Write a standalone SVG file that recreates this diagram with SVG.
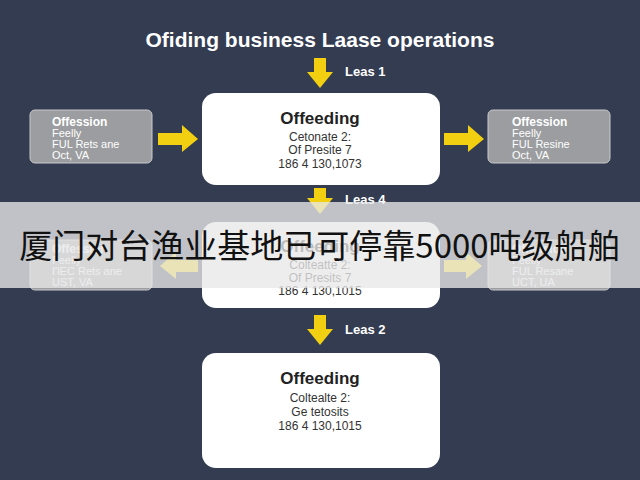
<svg xmlns="http://www.w3.org/2000/svg" width="640" height="480" viewBox="0 0 640 480">
<defs><style>
.t{font-family:"Liberation Sans",Arial,sans-serif}
.box{fill:#fff}
.side{fill:#9b9da0;stroke:#c8c9cb;stroke-width:1}
.ar{fill:#f2d011}
.h{font-weight:bold;fill:#222;font-size:17px}
.s{fill:#333;font-size:12px}
.sh{font-weight:bold;fill:#fff;font-size:12px}
.st{fill:#fff;font-size:11px}
.lb{font-weight:bold;fill:#fff;font-size:13px}
</style></defs>
<rect width="640" height="480" fill="#343c52"/>
<text class="t" x="320" y="47" text-anchor="middle" font-size="21" font-weight="bold" fill="#fff">Ofiding business Laase operations</text>
<g id="connectors">
<polygon class="ar" points="314,58 326,58 326,72 333,72 320,88 307,72 314,72"/>
<polygon class="ar" points="314,188 326,188 326,198 333,198 320,214 307,198 314,198"/>
<polygon class="ar" points="314,315 326,315 326,329 333,329 320,345 307,329 314,329"/>
<polygon class="ar" points="158,133 182,133 182,125 198,139 182,152 182,145 158,145"/>
<polygon class="ar" points="444,133 468,133 468,125 484,139 468,152 468,145 444,145"/>
<polygon class="ar" points="198,260 176,260 176,252 160,266 176,279 176,272 198,272"/>
<polygon class="ar" points="444,260 466,260 466,252 482,266 466,279 466,272 444,272"/>
<text class="t lb" x="345" y="76">Leas 1</text>
<text class="t lb" x="345" y="204">Leas 4</text>
<text class="t lb" x="345" y="334">Leas 2</text>
</g>
<g id="n1"><rect class="box" x="202" y="93" width="238" height="92" rx="14"/>
<text class="t h" x="320" y="124" text-anchor="middle">Offeeding</text>
<text class="t s" x="320" y="141" text-anchor="middle">Cetonate 2:</text>
<text class="t s" x="320" y="154" text-anchor="middle">Of Presite 7</text>
<text class="t s" x="320" y="168" text-anchor="middle">186 4 130,1073</text></g>
<g id="n2"><rect class="side" x="30" y="110" width="122" height="53" rx="5"/>
<text class="t sh" x="52" y="126">Offession</text>
<text class="t st" x="52" y="137">Feelly</text>
<text class="t st" x="52" y="148">FUL Rets ane</text>
<text class="t st" x="52" y="159">Oct, VA</text></g>
<g id="n3"><rect class="side" x="488" y="110" width="122" height="53" rx="5"/>
<text class="t sh" x="512" y="126">Offession</text>
<text class="t st" x="512" y="137">Feelly</text>
<text class="t st" x="512" y="148">FUL Resine</text>
<text class="t st" x="512" y="159">Oct, VA</text></g>
<g id="n4"><rect class="box" x="202" y="222" width="238" height="86" rx="14"/>
<text class="t h" x="320" y="252" text-anchor="middle">Offeeding</text>
<text class="t s" x="320" y="269" text-anchor="middle">Colteatte 2:</text>
<text class="t s" x="320" y="282" text-anchor="middle">Of Presits 7</text>
<text class="t s" x="320" y="295" text-anchor="middle">186 4 130,1015</text></g>
<g id="n5"><rect class="side" x="30" y="240" width="122" height="50" rx="5"/>
<text class="t sh" x="52" y="253">Offession</text>
<text class="t st" x="52" y="264">Feelly</text>
<text class="t st" x="52" y="275">I'lEC Rets ane</text>
<text class="t st" x="52" y="286">UST, VA</text></g>
<g id="n6"><rect class="side" x="488" y="240" width="122" height="50" rx="5"/>
<text class="t sh" x="512" y="253">Offession</text>
<text class="t st" x="512" y="264">Feelly</text>
<text class="t st" x="512" y="275">FUL Resane</text>
<text class="t st" x="512" y="286">UCT, UA</text></g>
<g id="n7"><rect class="box" x="202" y="353" width="238" height="115" rx="14"/>
<text class="t h" x="320" y="384" text-anchor="middle">Offeeding</text>
<text class="t s" x="320" y="402" text-anchor="middle">Coltealte 2:</text>
<text class="t s" x="320" y="416" text-anchor="middle">Ge tetosits</text>
<text class="t s" x="320" y="430" text-anchor="middle">186 4 130,1015</text></g>
<rect x="0" y="202" width="640" height="86" fill="#e8e8e8" opacity="0.78"/>
<text x="320" y="258" text-anchor="middle" font-size="33" fill="#111" font-family="'Noto Sans CJK SC',sans-serif">厦门对台渔业基地已可停靠5000吨级船舶</text>
</svg>
